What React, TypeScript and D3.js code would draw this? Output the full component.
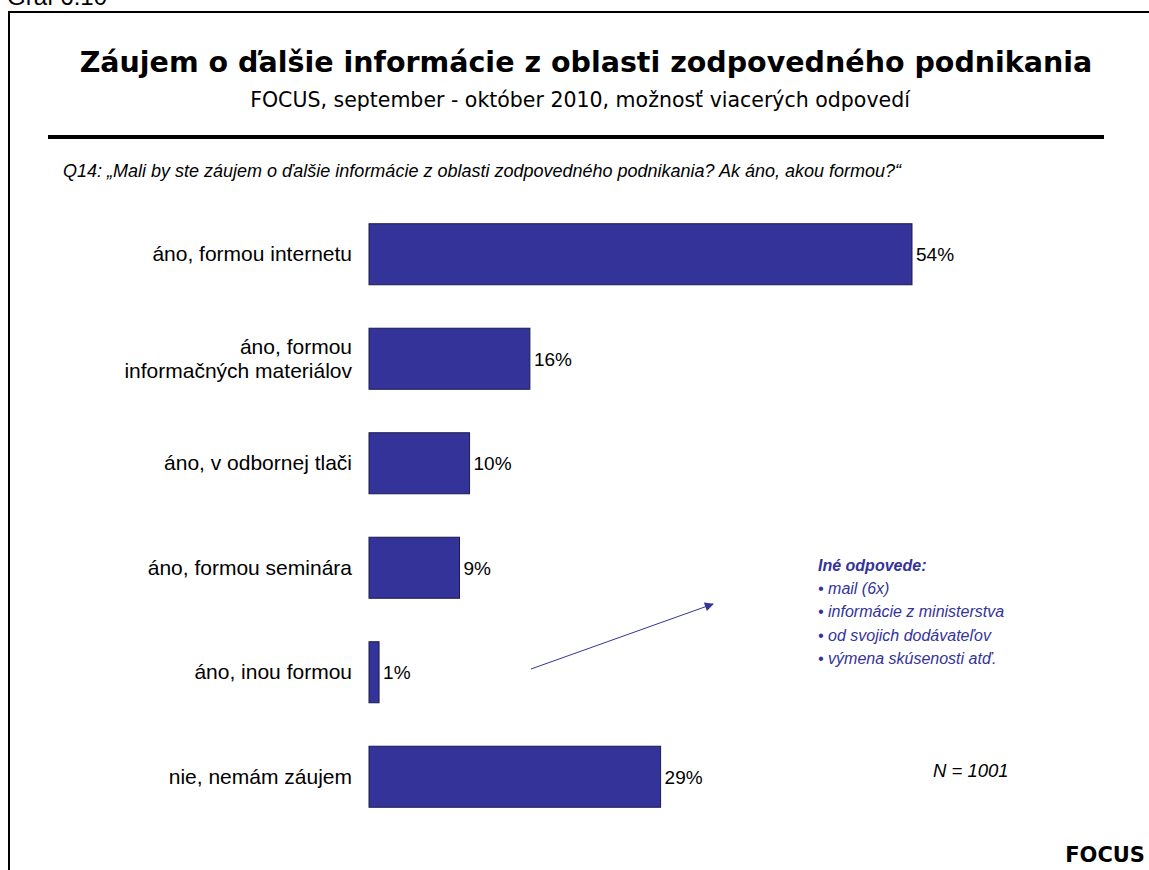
import React from "react";
import * as d3 from "d3";

const categories: string[][] = [
  ["áno, formou internetu"],
  ["áno, formou", "informačných materiálov"],
  ["áno, v odbornej tlači"],
  ["áno, formou seminára"],
  ["áno, inou formou"],
  ["nie, nemám záujem"],
];
const values: number[] = [54, 16, 10, 9, 1, 29];
const otherAnswers: string[] = [
  "• mail (6x)",
  "• informácie z ministerstva",
  "• od svojich dodávateľov",
  "•  výmena skúsenosti atď.",
];

const W = 1149;
const H = 870;
const BAR = "#333399";

export default function App() {
  const x = d3.scaleLinear().domain([0, 54]).range([369, 912]);
  const y = d3
    .scaleBand<number>()
    .domain(d3.range(values.length))
    .range([202, 829])
    .paddingInner(0.416)
    .paddingOuter(0.208);
  const bw = y.bandwidth();
  const arial = "Arial, 'Liberation Sans', sans-serif";
  const verdana = "Verdana, 'DejaVu Sans', sans-serif";

  return (
    <svg
      width={W}
      height={H}
      style={{ position: "absolute", left: 0, top: 0, background: "#fff" }}
    >
      <defs>
        <marker
          id="arr"
          viewBox="0 0 10 10"
          refX="9"
          refY="5"
          markerWidth="11"
          markerHeight="9"
          orient="auto"
          markerUnits="userSpaceOnUse"
        >
          <path d="M0,0 L10,5 L0,10 z" fill={BAR} />
        </marker>
      </defs>
      <rect x={0} y={0} width={W} height={H} fill="#fff" />
      <text x={7} y={5} fontFamily={arial} fontSize={24} fill="#000">
        Graf 6.10
      </text>
      {/* frame */}
      <line x1={8} y1={12} x2={W} y2={12} stroke="#000" strokeWidth={2} />
      <line x1={9} y1={12} x2={9} y2={H} stroke="#000" strokeWidth={2} />

      <text
        x={586}
        y={72}
        textAnchor="middle"
        fontFamily={verdana}
        fontWeight="bold"
        fontSize={28.5}
        fill="#000"
      >
        Záujem o ďalšie informácie z oblasti zodpovedného podnikania
      </text>
      <text
        x={580}
        y={107}
        textAnchor="middle"
        fontFamily={verdana}
        fontSize={20.5}
        fill="#000"
      >
        FOCUS, september - október 2010, možnosť viacerých odpovedí
      </text>
      <line x1={48} y1={137} x2={1104} y2={137} stroke="#000" strokeWidth={4} />
      <text
        x={63}
        y={177}
        fontFamily={arial}
        fontStyle="italic"
        fontSize={18}
        fill="#000"
      >
        Q14: „Mali by ste záujem o ďalšie informácie z oblasti zodpovedného podnikania? Ak áno, akou formou?“
      </text>

      {values.map((v, i) => {
        const yy = y(i)!;
        const cy = yy + bw / 2;
        const lines = categories[i];
        return (
          <g key={i}>
            <rect
              x={x(0)}
              y={yy}
              width={x(v) - x(0)}
              height={bw}
              fill={BAR}
              stroke="#1c1c4c"
              strokeWidth={1}
            />
            <text
              x={x(v) + 4}
              y={cy + 7}
              fontFamily={arial}
              fontSize={19}
              fill="#000"
            >
              {v}%
            </text>
            {lines.map((l, j) => (
              <text
                key={j}
                x={352}
                y={cy + 7 + (j - (lines.length - 1) / 2) * 24}
                textAnchor="end"
                fontFamily={arial}
                fontSize={21}
                fill="#000"
              >
                {l}
              </text>
            ))}
          </g>
        );
      })}

      <line
        x1={531}
        y1={669}
        x2={713}
        y2={604}
        stroke={BAR}
        strokeWidth={1}
        markerEnd="url(#arr)"
      />
      <text
        x={818}
        y={571}
        fontFamily={arial}
        fontStyle="italic"
        fontWeight="bold"
        fontSize={16}
        fill={BAR}
      >
        Iné odpovede:
      </text>
      {otherAnswers.map((t, i) => (
        <text
          key={i}
          x={818}
          y={594 + i * 23.3}
          fontFamily={arial}
          fontStyle="italic"
          fontSize={16}
          fill={BAR}
        >
          {t}
        </text>
      ))}
      <text
        x={933}
        y={777}
        fontFamily={arial}
        fontStyle="italic"
        fontSize={18.5}
        fill="#000"
      >
        N = 1001
      </text>
      <text
        x={1145}
        y={862}
        textAnchor="end"
        fontFamily={verdana}
        fontWeight="bold"
        fontSize={21}
        fill="#000"
      >
        FOCUS
      </text>
    </svg>
  );
}
